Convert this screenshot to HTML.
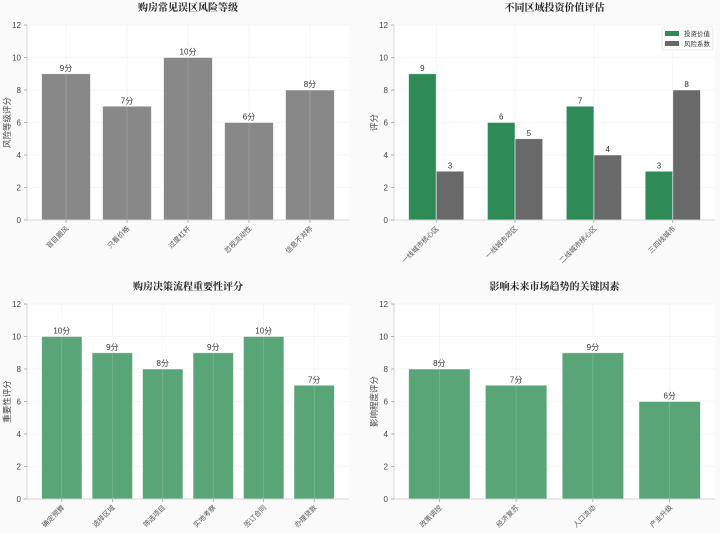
<!DOCTYPE html>
<html><head><meta charset="utf-8"><style>
html,body{margin:0;padding:0;background:#fafafa;}
svg{display:block;font-family:"Liberation Sans","Noto Sans CJK SC",sans-serif;}
</style></head><body>
<svg id="fig" width="720" height="533"></svg>
<script>
const riskCats = ["盲目跟风","只看价格","过度杠杆","忽视流动性","信息不对称"];
const riskVals = [9,7,10,6,8];
const regionCats = ["一线城市核心区","一线城市郊区","二线城市核心区","三四线城市"];
const investVals = [9,6,7,3];
const riskCoefVals = [3,5,4,8];
const stepCats = ["确定预算","选择区域","筛选项目","实地考察","签订合同","办理贷款"];
const stepVals = [10,9,8,9,10,7];
const factorCats = ["政策调控","经济复苏","人口流动","产业升级"];
const factorVals = [8,7,9,6];
const yTicks = [0,2,4,6,8,10,12];

const NS="http://www.w3.org/2000/svg";
const svg=document.getElementById('fig');
function el(tag,attrs,parent,text){const e=document.createElementNS(NS,tag);for(const k in attrs)e.setAttribute(k,attrs[k]);if(text!==undefined)e.textContent=text;(parent||svg).appendChild(e);return e;}

function panel(cfg){
  const g=el('g',{});
  
  
  const L=cfg.x0,R=cfg.x1,T=cfg.y0,B=cfg.y1;
  const n=cfg.cats.length;
  const half=cfg.half;
  const span=(n-1)+2*half, m=span*0.05;
  const xmin=-half-m, xmax=n-1+half+m;
  const xs=v=>L+(v-xmin)/(xmax-xmin)*(R-L);
  const ys=v=>B-(v/12)*(B-T);
  const bg=el('rect',{x:L,y:T,width:R-L,height:B-T,fill:'#ffffff'},g);
  
  
  // grid
  yTicks.forEach(t=>{el('line',{x1:L,x2:R,y1:ys(t),y2:ys(t),stroke:'#eeeeee','stroke-width':0.6},g);});
  cfg.cats.forEach((c,i)=>{el('line',{x1:xs(i),x2:xs(i),y1:T,y2:B,stroke:'#eeeeee','stroke-width':0.6},g);});
  // bars
  cfg.series.forEach(s=>{
    s.vals.forEach((v,i)=>{
      const cx=xs(i+s.off), w=(xs(s.w)-xs(0));
      const r=el('rect',{x:cx-w/2,y:ys(v),width:w,height:ys(0)-ys(v),fill:s.color,stroke:'#ffffff','stroke-opacity':0.6,'stroke-width':0.8},g);
      
      
      const t=el('text',{x:cx,y:ys(v)-3,'text-anchor':'middle','font-size':8,fill:'#333'},g,v+(cfg.suffix||''));
      
      
    });
  });
  // grid lines over bars (matplotlib grid appears above)
  cfg.cats.forEach((c,i)=>{el('line',{x1:xs(i),x2:xs(i),y1:T,y2:B,stroke:'#ffffff','stroke-opacity':0.25,'stroke-width':0.6},g);});
  // axes
  el('line',{x1:L,x2:L,y1:T,y2:B,stroke:'#cccccc','stroke-width':0.8},g);
  el('line',{x1:L,x2:R,y1:B,y2:B,stroke:'#cccccc','stroke-width':0.8},g);
  yTicks.forEach(t=>{
    el('line',{x1:L-3,x2:L,y1:ys(t),y2:ys(t),stroke:'#888','stroke-width':0.6},g);
    const tl=el('text',{x:L-6,y:ys(t)+3,'text-anchor':'end','font-size':8,fill:'#444'},g,t);
    
    
  });
  cfg.cats.forEach((c,i)=>{
    el('line',{x1:xs(i),x2:xs(i),y1:B,y2:B+3,stroke:'#888','stroke-width':0.6},g);
    const tx=xs(i)+3, ty=B+9;
    const tl=el('text',{x:tx,y:ty,'text-anchor':'end','font-size':7,fill:'#555',transform:`rotate(-45 ${tx} ${ty})`},g,c);
    
    
  });
  const yl=el('text',{x:0,y:0,'text-anchor':'middle','font-size':8.5,fill:'#444',transform:`translate(${L-17},${(T+B)/2}) rotate(-90)`},g,cfg.ylabel);
  
  
  const tt=el('text',{x:(L+R)/2,y:T-14,'text-anchor':'middle','font-size':10,'font-weight':'bold',fill:'#222','font-family':'"Liberation Serif","Noto Serif CJK SC",serif'},g,cfg.title);
  
  
  return g;
}

panel({name:'risk-chart',x0:27,x1:349,y0:25,y1:220,cats:riskCats,half:0.4,suffix:'分',
  series:[{vals:riskVals,off:0,w:0.8,color:'#888888'}],ylabel:'风险等级评分',title:'购房常见误区风险等级'});
const p2=panel({name:'region-chart',x0:394,x1:715,y0:25,y1:220,cats:regionCats,half:0.35,suffix:'',
  series:[{vals:investVals,off:-0.175,w:0.35,color:'#2e8b57'},{vals:riskCoefVals,off:0.175,w:0.35,color:'#696969'}],ylabel:'评分',title:'不同区域投资价值评估'});
panel({name:'process-chart',x0:27,x1:349,y0:304,y1:499,cats:stepCats,half:0.4,suffix:'分',
  series:[{vals:stepVals,off:0,w:0.8,color:'#5aa577'}],ylabel:'重要性评分',title:'购房决策流程重要性评分'});
panel({name:'factor-chart',x0:394,x1:715,y0:304,y1:499,cats:factorCats,half:0.4,suffix:'分',
  series:[{vals:factorVals,off:0,w:0.8,color:'#5aa577'}],ylabel:'影响程度评分',title:'影响未来市场趋势的关键因素'});

// legend
const lg=el('g',{},p2);


el('rect',{x:662,y:27,width:51,height:23,fill:'#ffffff',stroke:'#dddddd','stroke-width':0.6,rx:1.5},lg);
el('rect',{x:665,y:31,width:14,height:5,fill:'#2e8b57'},lg);
el('rect',{x:665,y:41,width:14,height:5,fill:'#696969'},lg);
const l1=el('text',{x:684,y:36,'font-size':6.5,fill:'#333'},lg,'投资价值');


const l2=el('text',{x:684,y:46,'font-size':6.5,fill:'#333'},lg,'风险系数');


</script>
</body></html>
